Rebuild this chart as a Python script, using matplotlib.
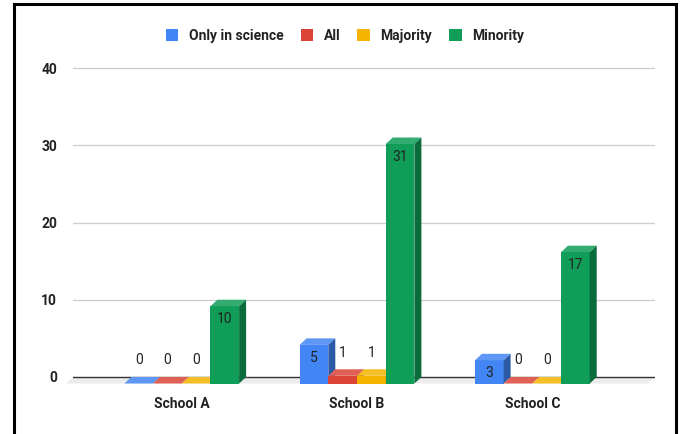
import matplotlib
matplotlib.use("Agg")
import matplotlib.pyplot as plt
from matplotlib.patches import Polygon, Rectangle, Patch
from matplotlib.colors import to_rgb
import numpy as np

plt.rcParams['font.family'] = ['Roboto', 'DejaVu Sans']

schools = ["School A", "School B", "School C"]
series_names = ["Only in science", "All", "Majority", "Minority"]
only_in_science = [0, 5, 3]
all_students = [0, 1, 0]
majority = [0, 1, 0]
minority = [10, 31, 17]
series_values = [only_in_science, all_students, majority, minority]
series_colors = ["#4285F4", "#DB4437", "#F4B400", "#0F9D58"]
y_ticks = [0, 10, 20, 30, 40]

W, H, DPI = 681, 434, 100
fig = plt.figure(figsize=(W / DPI, H / DPI), dpi=DPI)

# plot area in pixels
left_px, right_px = 73, 655
y0_px, y40_px = 377, 68
ppu = (y0_px - y40_px) / 40.0
ylo, yhi = -2.2, 41.5
top_px = y0_px - yhi * ppu
bot_px = y0_px - ylo * ppu
ax = fig.add_axes([left_px / W, 1 - bot_px / H,
                   (right_px - left_px) / W, (bot_px - top_px) / H])
xlo, xhi = -0.66, 2.66
ax.set_xlim(xlo, xhi)
ax.set_ylim(ylo, yhi)
xppu = (right_px - left_px) / (xhi - xlo)

# depth of the 3D extrusion (pixels -> data units)
dx = 7.0 / xppu
dy = 6.5 / ppu
bw = 28.7 / xppu


def lighten(c, f):
    r = np.array(to_rgb(c))
    return tuple(r + (1 - r) * f)


def darken(c, f):
    return tuple(np.array(to_rgb(c)) * f)


for s in ax.spines.values():
    s.set_visible(False)

# gridlines
for t in y_ticks[1:]:
    ax.axhline(t, color="#cccccc", lw=0.9, zorder=0)

# floor
ax.add_patch(Polygon([(xlo, 0), (xhi, 0), (xhi - dx, -dy), (xlo - dx, -dy)],
                     closed=True, facecolor="#ececec", edgecolor="none",
                     zorder=1, clip_on=False))
ax.axhline(0, color="#333333", lw=1.0, zorder=2)

z = 3
for i in range(len(schools)):
    for j, (vals, col) in enumerate(zip(series_values, series_colors)):
        v = vals[i]
        xb = i + (j - 2) * bw          # back-face left edge
        xf = xb - dx                   # front-face left edge
        # front face
        ax.bar(xf, v, width=bw, bottom=-dy, align="edge", color=col,
               edgecolor="none", zorder=z)
        # top face
        ax.add_patch(Polygon([(xf, v - dy), (xf + bw, v - dy),
                              (xb + bw, v), (xb, v)], closed=True,
                             facecolor=lighten(col, 0.15), edgecolor="none",
                             zorder=z))
        # side face
        if v > 0:
            ax.add_patch(Polygon([(xf + bw, -dy), (xb + bw, 0), (xb + bw, v),
                                  (xf + bw, v - dy)], closed=True,
                                 facecolor=darken(col, 0.68), edgecolor="none",
                                 zorder=z))
        z += 1
        # value label
        cx = xf + bw / 2
        if v * ppu > 20:
            ly = v - dy - 13 / ppu
        else:
            ly = v - dy + 23 / ppu
        ax.text(cx, ly, f"{v}", ha="center", va="center", fontsize=10,
                color="#222222", zorder=50)

ax.set_yticks(y_ticks)
ax.set_yticklabels([str(t) for t in y_ticks], fontsize=10, fontweight="bold",
                   color="#222222")
ax.tick_params(axis="y", length=0, pad=11.5)
group_centers = [i - dx for i in range(len(schools))]
ax.set_xticks(group_centers)
ax.set_xticklabels(schools, fontsize=10, fontweight="bold", color="#222222")
ax.tick_params(axis="x", length=0, pad=2)

handles = [Patch(facecolor=c, edgecolor="none") for c in series_colors]
fig.legend(handles, series_names, loc="center", ncol=4, frameon=False,
           bbox_to_anchor=(345 / W, 1 - 36 / H),
           prop={"family": "Roboto", "weight": "bold", "size": 10},
           handlelength=0.9, handleheight=0.9, handletextpad=0.75,
           columnspacing=1.25, labelcolor="#222222")

# outer frame
fig.patches.append(Rectangle((13.5 / W, -0.05), (675.5 - 13.5) / W,
                             1.05 - 4.5 / H, transform=fig.transFigure,
                             fill=False, edgecolor="black", lw=2.2))

fig.savefig("out.png", dpi=DPI)
